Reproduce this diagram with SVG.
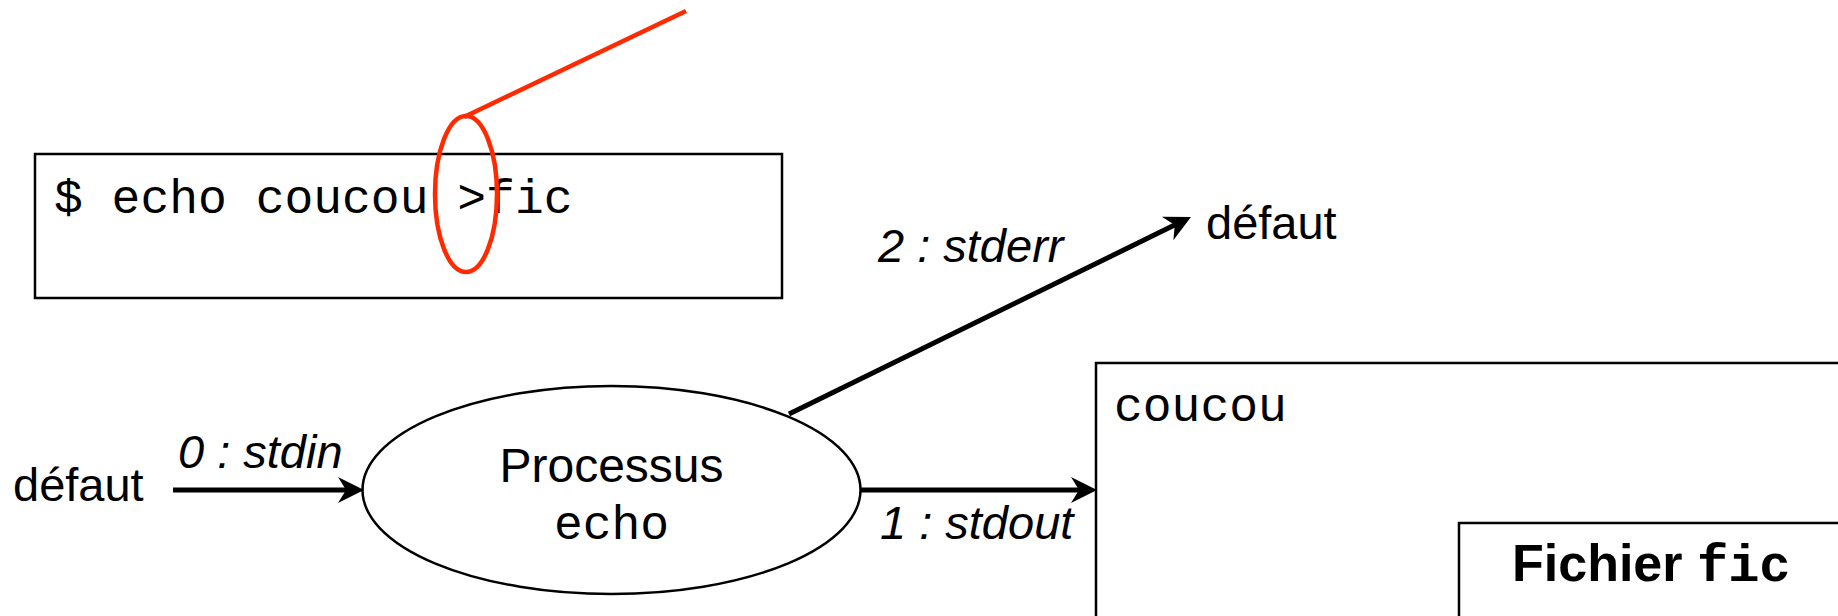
<svg xmlns="http://www.w3.org/2000/svg" width="1838" height="616" viewBox="0 0 1838 616">
<style>
.box{fill:#fff;stroke:#000;stroke-width:2.5}
.sans{font-family:"Liberation Sans",Arial,sans-serif;fill:#000}
.it{font-style:italic}
.mono{font-family:"Liberation Mono","Courier New",monospace;fill:#000}
.conn{stroke:#000;stroke-width:5;fill:none}
.red{stroke:#ff2a00;stroke-width:4.5;fill:none}
</style>
<defs>
<marker id="arr" viewBox="-28 -15 30 30" refX="-12" refY="0" markerWidth="30" markerHeight="30" markerUnits="userSpaceOnUse" orient="auto">
<path d="M0,0 L-26,-13 L-18,0 L-26,13 Z" fill="#000"/>
</marker>
</defs>
<rect width="1838" height="616" fill="#fff"/>
<g id="command">
<rect class="box" x="35" y="154" width="747" height="144"/>
<text class="mono" x="54" y="213" font-size="48">$ echo coucou &gt;fic</text>
</g>
<g id="highlight">
<ellipse class="red" cx="466" cy="194" rx="31" ry="78"/>
<line class="red" x1="464" y1="117" x2="686" y2="11"/>
</g>
<g id="process">
<ellipse cx="611.5" cy="490" rx="249" ry="104" fill="#fff" stroke="#000" stroke-width="2.5"/>
<text class="sans" x="611.5" y="482" font-size="48" text-anchor="middle">Processus</text>
<text class="mono" x="611.5" y="539" font-size="48" text-anchor="middle">echo</text>
</g>
<g id="file">
<rect class="box" x="1096" y="363" width="800" height="300"/>
<text class="mono" x="1114" y="421" font-size="48">coucou</text>
<rect class="box" x="1459" y="523" width="500" height="200"/>
<text class="sans" x="1512" y="581" font-size="52" font-weight="bold">Fichier <tspan class="mono" font-weight="bold">fic</tspan></text>
</g>
<g id="stdin-src">
<text class="sans" x="13" y="501" font-size="47">défaut</text>
</g>
<g id="stderr-dst">
<text class="sans" x="1206" y="239" font-size="47">défaut</text>
</g>
<g id="connectors">
<line class="conn" x1="173" y1="490" x2="352" y2="490" marker-end="url(#arr)"/>
<line class="conn" x1="861" y1="490" x2="1085" y2="490" marker-end="url(#arr)"/>
<line class="conn" x1="789" y1="414" x2="1180.2" y2="222.3" marker-end="url(#arr)"/>
<text class="sans it" x="178" y="468" font-size="47">0 : stdin</text>
<text class="sans it" x="880" y="539" font-size="47">1 : stdout</text>
<text class="sans it" x="878" y="262" font-size="47">2 : stderr</text>
</g>
</svg>
